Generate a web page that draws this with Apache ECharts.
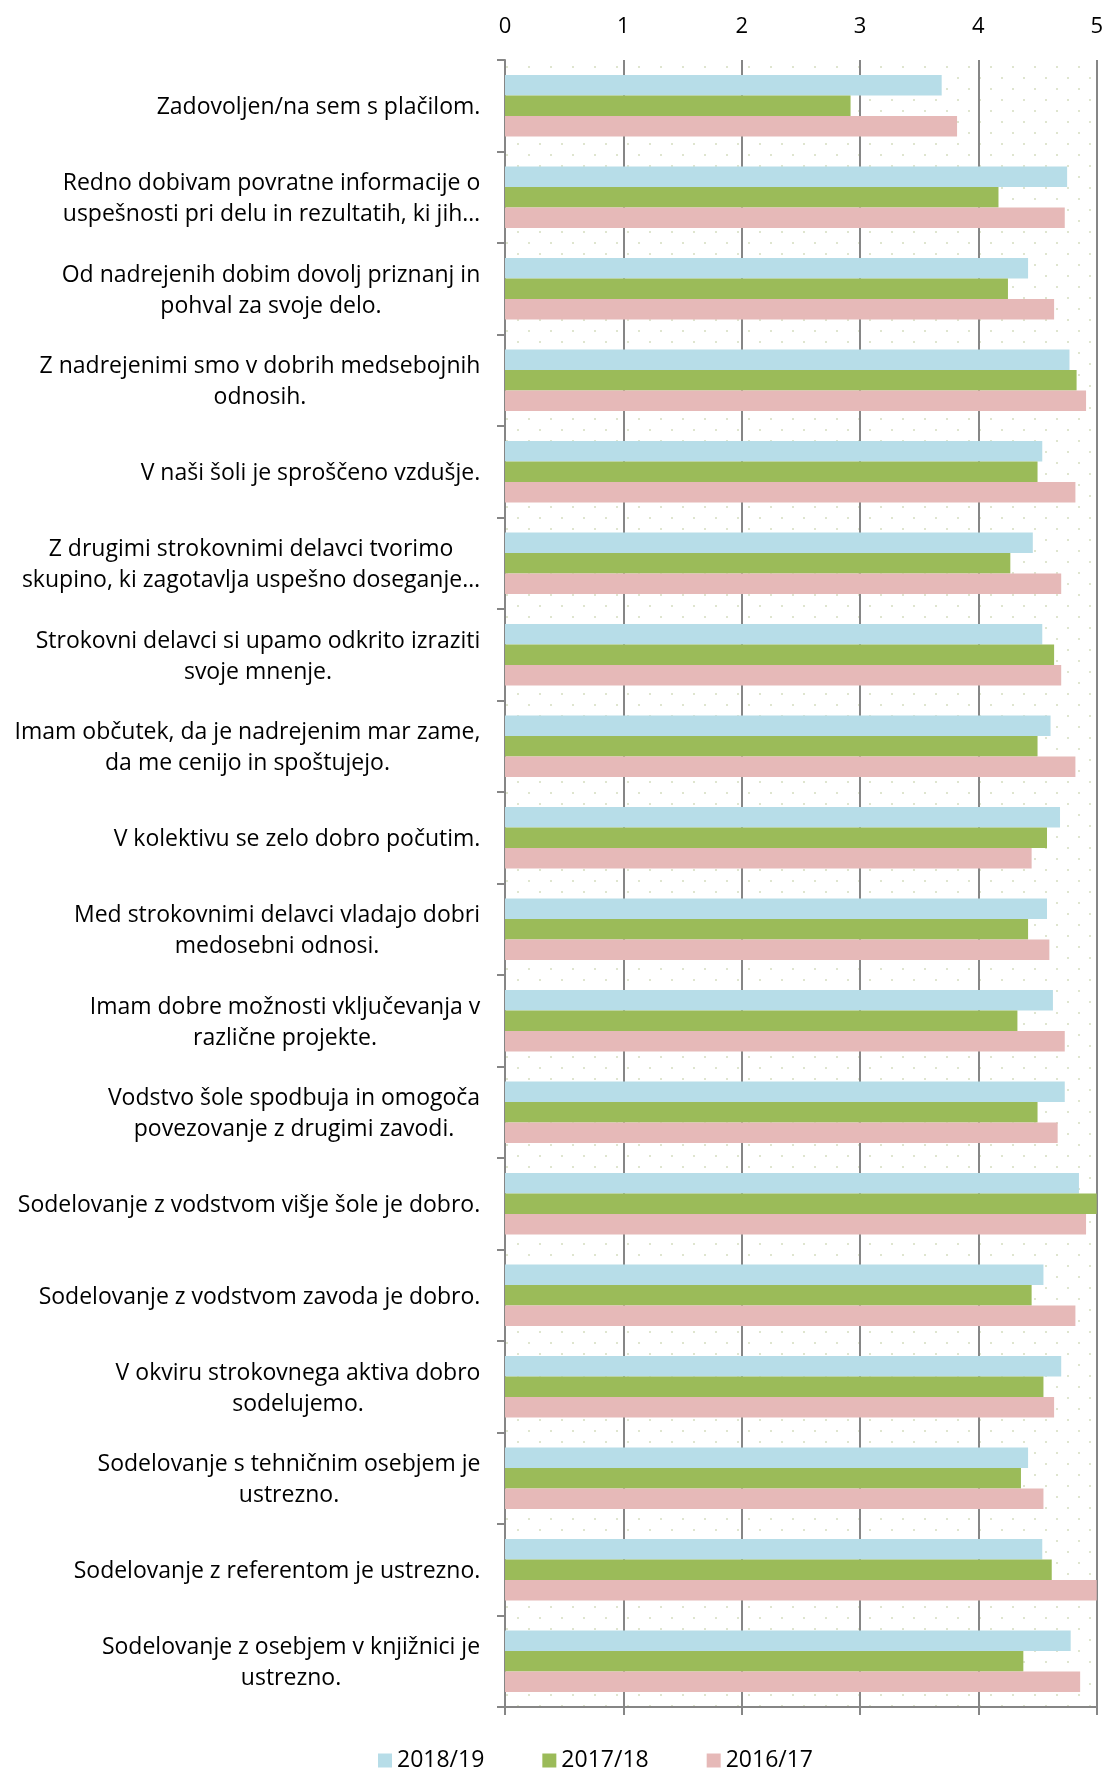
<!DOCTYPE html>
<html>
<head>
<meta charset="utf-8">
<script src="https://cdn.jsdelivr.net/npm/echarts@6/dist/echarts.min.js"></script>
<style>
  html, body { margin: 0; padding: 0; background: #fff; }
  #chart { width: 1106px; height: 1769px; }
</style>
</head>
<body>
<div id="chart"></div>
<script>
var categories = [
  'Zadovoljen/na sem s plačilom.',
  'Redno dobivam povratne informacije o\nuspešnosti pri delu in rezultatih, ki jih…',
  'Od nadrejenih dobim dovolj priznanj in\npohval za svoje delo.',
  'Z nadrejenimi smo v dobrih medsebojnih\nodnosih.',
  'V naši šoli je sproščeno vzdušje.',
  'Z drugimi strokovnimi delavci tvorimo\nskupino, ki zagotavlja uspešno doseganje…',
  'Strokovni delavci si upamo odkrito izraziti\nsvoje mnenje.',
  'Imam občutek, da je nadrejenim mar zame,\nda me cenijo in spoštujejo.',
  'V kolektivu se zelo dobro počutim.',
  'Med strokovnimi delavci vladajo dobri\nmedosebni odnosi.',
  'Imam dobre možnosti vključevanja v\nrazlične projekte.',
  'Vodstvo šole spodbuja in omogoča\npovezovanje z drugimi zavodi.',
  'Sodelovanje z vodstvom višje šole je dobro.',
  'Sodelovanje z vodstvom zavoda je dobro.',
  'V okviru strokovnega aktiva dobro\nsodelujemo.',
  'Sodelovanje s tehničnim osebjem je\nustrezno.',
  'Sodelovanje z referentom je ustrezno.',
  'Sodelovanje z osebjem v knjižnici je\nustrezno.'
]
var years = ['2018/19', '2017/18', '2016/17']
var values2018 = [3.69, 4.75, 4.42, 4.77, 4.54, 4.46, 4.54, 4.61, 4.69, 4.58, 4.63, 4.73, 4.85, 4.55, 4.70, 4.42, 4.54, 4.78]
var values2017 = [2.92, 4.17, 4.25, 4.83, 4.50, 4.27, 4.64, 4.50, 4.58, 4.42, 4.33, 4.50, 5.00, 4.45, 4.55, 4.36, 4.62, 4.38]
var values2016 = [3.82, 4.73, 4.64, 4.91, 4.82, 4.70, 4.70, 4.82, 4.45, 4.60, 4.73, 4.67, 4.91, 4.82, 4.64, 4.55, 5.00, 4.86]
var colors = ['#b7dde8', '#9bbb59', '#e6b9b8']

var fontName = 'Open Sans'
var fontSize = 23

// dotted plot background
var pat = document.createElement('canvas')
pat.width = 22
pat.height = 22
var pctx = pat.getContext('2d')
pctx.fillStyle = '#dfe5cf'
pctx.fillRect(0, 0, 2, 2)
pctx.fillRect(11, 11, 2, 2)

// centered multi-line labels: one rich style per label, as wide as its longest line
var measure = document.createElement('canvas').getContext('2d')
measure.font = fontSize + 'px "' + fontName + '"'
var rich = {}
categories.forEach(function (c, i) {
  var w = 0
  c.split('\n').forEach(function (line) {
    w = Math.max(w, measure.measureText(line).width)
  })
  rich['r' + i] = { width: Math.ceil(w) + 1, align: 'center', fontSize: fontSize, fontFamily: fontName, color: '#000', lineHeight: 31 }
})

var chart = echarts.init(document.getElementById('chart'))

var option = {
  animation: false,
  textStyle: { fontFamily: fontName },
  grid: {
    left: 505, right: 9, top: 60, bottom: 62,
    show: true,
    borderWidth: 0,
    backgroundColor: { image: pat, repeat: 'repeat' }
  },
  legend: {
    data: years,
    left: 373,
    top: 1744,
    itemWidth: 14,
    itemHeight: 14,
    itemGap: 58,
    icon: 'rect',
    textStyle: { fontSize: 23, color: '#000', fontFamily: fontName }
  },
  xAxis: [
    {
      type: 'value', position: 'top', min: 0, max: 5, interval: 1,
      axisLine: { show: false },
      axisTick: { show: false },
      axisLabel: { fontSize: 22, color: '#000', margin: 22 },
      splitLine: { show: true, lineStyle: { color: '#868686', width: 2 } }
    },
    {
      type: 'value', position: 'bottom', min: 0, max: 5, interval: 1,
      axisLine: { show: true, lineStyle: { color: '#868686', width: 2 } },
      axisTick: { show: true, length: 8, lineStyle: { color: '#868686', width: 2 } },
      axisLabel: { show: false },
      splitLine: { show: false }
    }
  ],
  yAxis: {
    type: 'category',
    data: categories,
    inverse: true,
    axisLine: { show: true, lineStyle: { color: '#868686', width: 2 } },
    axisTick: { show: true, length: 8, lineStyle: { color: '#868686', width: 2 } },
    axisLabel: {
      margin: 24,
      padding: [4, 0, 0, 0],
      formatter: function (v, i) { return '{r' + i + '|' + v + '}' },
      rich: rich
    }
  },
  series: [values2018, values2017, values2016].map(function (vals, k) {
    return {
      name: years[k],
      type: 'bar',
      xAxisIndex: 0,
      data: vals,
      barGap: '0%',
      barCategoryGap: '33%',
      itemStyle: { color: colors[k] }
    }
  })
}

chart.setOption(option)
window.addEventListener('resize', function () {
  chart.resize()
})
</script>
</body>
</html>
